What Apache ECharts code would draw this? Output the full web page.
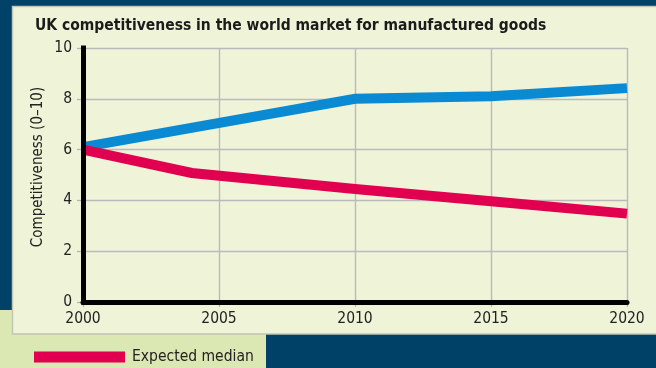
<!DOCTYPE html>
<html>
<head>
<meta charset="utf-8">
<script src="https://cdn.jsdelivr.net/npm/echarts@6/dist/echarts.min.js"></script>
<style>
  html, body { margin: 0; padding: 0; background: #004168; }
  #chart { width: 656px; height: 368px; }
</style>
</head>
<body>
<div id="chart"></div>
<script>
// Competitiveness index (0–10) by year
const years = [2000, 2005, 2010, 2015, 2020];
const yTicks = [0, 2, 4, 6, 8, 10];
const upperYears = [2000, 2010, 2015, 2020];
const upperValues = [6.1, 8.0, 8.1, 8.42];
const medianYears = [2000, 2004, 2010, 2015, 2020];
const medianValues = [6.0, 5.08, 4.45, 3.97, 3.48];

const FONT = "'DejaVu Sans Condensed', 'Liberation Sans Narrow', sans-serif";
const pair = (xs, vs) => xs.map((x, i) => [x, vs[i]]);

const chart = echarts.init(document.getElementById('chart'), null, { renderer: 'canvas' });

const baseX = {
  type: 'value', min: years[0], max: years[years.length - 1], interval: 5
};
const baseY = {
  type: 'value', min: yTicks[0], max: yTicks[yTicks.length - 1], interval: 2
};

chart.setOption({
  backgroundColor: '#004168',
  animation: false,
  textStyle: { fontFamily: FONT },
  title: {
    text: 'UK competitiveness in the world market for manufactured goods',
    left: 30, top: 13,
    textStyle: { fontFamily: FONT, fontWeight: 'bold', fontSize: 15.5, color: '#1b1b1b' }
  },
  graphic: [
    { type: 'rect', z: -10, shape: { x: 0, y: 310, width: 266, height: 58 },
      style: { fill: '#dce8b3' } },
    { type: 'rect', z: -9, shape: { x: 12.5, y: 6.5, width: 660, height: 327.5 },
      style: { fill: '#eff4d9', stroke: '#c2c5b3', lineWidth: 1.5 } },
    { type: 'text', z: 5, x: 38, y: 167, rotation: Math.PI / 2,
      style: { text: 'Competitiveness (0\u201310)', fontFamily: FONT, fontSize: 15,
               fill: '#222', align: 'center', verticalAlign: 'middle' } }
  ],
  legend: {
    data: ['Expected median'],
    left: 29, top: 344,
    icon: 'rect', itemWidth: 91, itemHeight: 11,
    textStyle: { fontFamily: FONT, fontSize: 15.5, color: '#222', padding: [0, 0, 0, 2] }
  },
  grid: { left: 83, right: 29, top: 48, bottom: 66 },
  xAxis: [
    Object.assign({}, baseX, {
      axisLine: { show: false },
      axisTick: { show: true, length: 5, lineStyle: { color: '#b5b5b5', width: 1.3 } },
      axisLabel: { margin: 9, fontSize: 15.5, color: '#222', fontFamily: FONT,
                   formatter: v => String(v) },
      splitLine: { show: true, lineStyle: { color: '#bababa', width: 1.4 } }
    }),
    Object.assign({}, baseX, {
      position: 'bottom', z: 10,
      axisLine: { show: true, onZero: false, lineStyle: { color: '#000', width: 5 } },
      axisTick: { show: false }, axisLabel: { show: false }, splitLine: { show: false }
    })
  ],
  yAxis: [
    Object.assign({}, baseY, {
      axisLine: { show: false },
      axisTick: { show: true, length: 6, inside: false, lineStyle: { color: '#b5b5b5', width: 1.3 } },
      axisLabel: { margin: 11, fontSize: 15.5, color: '#222', fontFamily: FONT },
      splitLine: { show: true, lineStyle: { color: '#bababa', width: 1.4 } }
    }),
    Object.assign({}, baseY, {
      position: 'left', z: 10,
      axisLine: { show: true, onZero: false, lineStyle: { color: '#000', width: 5, cap: 'square' } },
      axisTick: { show: false }, axisLabel: { show: false }, splitLine: { show: false }
    })
  ],
  series: [
    {
      name: 'Higher scenario', type: 'line',
      data: pair(upperYears, upperValues),
      showSymbol: false, symbol: 'none',
      color: '#0a8ad3',
      lineStyle: { width: 10, color: '#0a8ad3', cap: 'butt', join: 'miter' }
    },
    {
      name: 'Expected median', type: 'line',
      data: pair(medianYears, medianValues),
      showSymbol: false, symbol: 'none',
      color: '#e0004f',
      itemStyle: { color: '#e0004f' },
      lineStyle: { width: 10, color: '#e0004f', cap: 'butt', join: 'miter' }
    }
  ]
});
</script>
</body>
</html>
